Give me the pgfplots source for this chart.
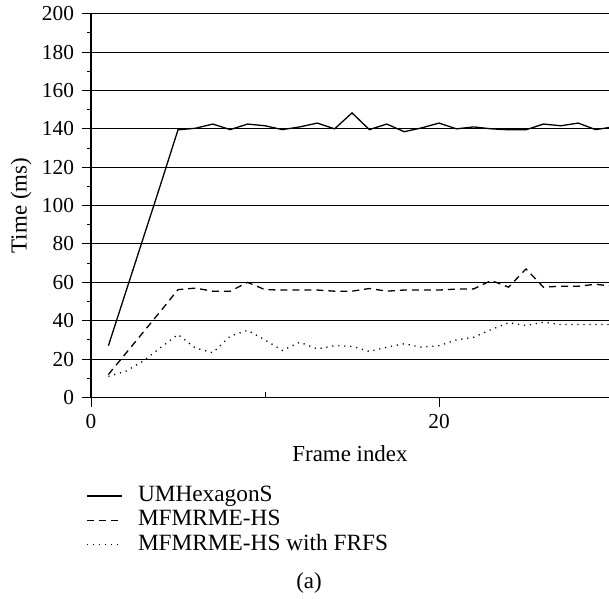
\documentclass[border=0pt]{standalone}
\usepackage{fontspec}
\setmainfont{Liberation Serif}
\usepackage{pgfplots}
\pgfplotsset{compat=1.18}
\begin{document}
\fontsize{11.5}{13}\selectfont
\begin{tikzpicture}
\begin{axis}[
  scale only axis, width=259bp, height=191.9bp,
  at={(0,0)}, anchor=south west,
  xmin=0, xmax=29.77, ymin=0, ymax=200,
  axis x line=bottom, axis y line=left,
  axis line style={-, line width=0.6bp, black},
  xtick={0,20}, ytick={0,20,...,200}, minor ytick={10,30,...,190},
  extra x ticks={10}, extra x tick labels={},
  extra x tick style={tick align=inside, major tick length=3bp},
  ymajorgrids, grid style={black, line width=0.5bp},
  tick align=outside, major tick length=4.5bp, minor tick length=2bp,
  tick style={black, line width=0.5bp},
  /pgf/number format/assume math mode=true,
  tick label style={font=\fontsize{10.7}{12}\selectfont},
  label style={font=\fontsize{11.5}{13}\selectfont},
  xlabel={Frame index}, ylabel={Time (ms)},
  xlabel style={at={(axis description cs:0.5,-0.1459)}, anchor=center},
  ylabel style={at={(axis description cs:-0.1351,0.5)}, anchor=center},
  legend cell align=left,
  legend image code/.code={\draw[#1] (0bp,0bp) -- (17.5bp,0bp);},
  legend style={draw=none, fill=none, inner sep=0pt, outer sep=0pt,
    row sep=2.7bp, font=\fontsize{11.7}{13}\selectfont,
    nodes={inner sep=0pt, text height=7.5bp, text depth=2bp},
    /tikz/every odd column/.append style={column sep=7.85bp},
    at={(rel axis cs:0,0)}, anchor=north west, xshift=-2.5bp, yshift=-44.5bp},
]
\addplot[black, line width=0.65bp] coordinates {
(1,27)(2,55)(3,83)(4,111)(5,139.5)(6,140.3)(7,142.5)(8,139.6)(9,142.5)(10,141.6)
(11,139.6)(12,141)(13,143)(14,140)(15,148.3)(16,139.6)(17,142.5)(18,138.5)(19,140.5)(20,143)
(21,140)(22,141)(23,140)(24,139.5)(25,139.5)(26,142.5)(27,141.6)(28,143)(29,139.6)(30,141)};
\addlegendentry{UMHexagonS}
\addplot[black, line width=0.65bp, dash pattern=on 3.5bp off 2.5bp] coordinates {
(1,12)(2,23)(3,34)(4,45)(5,56.2)(6,57)(7,55.4)(8,55.4)(9,60)(10,56.2)
(11,56)(12,56)(13,56)(14,55.4)(15,55.4)(16,56.8)(17,55.4)(18,56)(19,56)(20,56)
(21,56.5)(22,56.6)(23,61)(24,57.5)(25,67)(26,57.5)(27,58)(28,58)(29,59)(30,58)};
\addlegendentry{MFMRME-HS}
\addplot[black, line width=0.65bp, dash pattern=on 0.6bp off 2.4bp] coordinates {
(1,11)(2,13.7)(3,19)(4,26)(5,32.8)(6,25.8)(7,23.3)(8,32)(9,35)(10,30)
(11,24.5)(12,28.8)(13,25.3)(14,27)(15,26.7)(16,24)(17,26.2)(18,28)(19,26.2)(20,27)
(21,30)(22,31.4)(23,35.4)(24,39)(25,37.5)(26,39.2)(27,38)(28,38)(29,38)(30,38)};
\addlegendentry{MFMRME-HS with FRFS}
\end{axis}
\node[font=\fontsize{11.5}{13}\selectfont, anchor=center] at (109bp,-92.75bp) {(a)};
\pgfresetboundingbox
\path (-45.5bp,-100.75bp) rectangle (259bp,198.75bp);
\end{tikzpicture}
\end{document}
